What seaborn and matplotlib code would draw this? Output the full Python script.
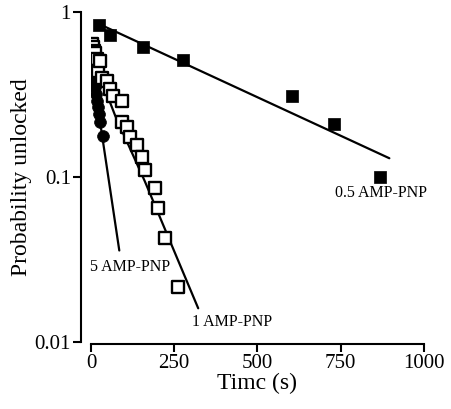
import numpy as np
import pandas as pd
import matplotlib
matplotlib.use("Agg")
import matplotlib.pyplot as plt
import seaborn as sns

# 0.5 AMP-PNP (filled squares)
t_half = [25, 57, 157, 275, 604, 730, 867]
p_half = [0.83, 0.72, 0.61, 0.51, 0.31, 0.21, 0.10]
fit_half_t = [37, 896]
fit_half_p = [0.82, 0.13]

# 1 AMP-PNP (open squares)
t_one = [2, 5, 9, 12, 17, 22, 27, 32, 47, 57, 67, 92, 92, 107, 117, 137, 152, 162, 193, 202, 222, 262]
p_one = [0.64, 0.61, 0.58, 0.56, 0.52, 0.44, 0.50, 0.40, 0.38, 0.34, 0.31, 0.29, 0.216,
         0.20, 0.175, 0.156, 0.133, 0.110, 0.0865, 0.065, 0.043, 0.0217]
fit_one_t = [15, 72, 162, 322]
fit_one_p = [0.47, 0.237, 0.094, 0.0161]

# 5 AMP-PNP (filled circles)
t_five = [1, 2, 3, 4, 5, 6, 8, 10, 12, 15, 18, 22, 25, 27, 37]
p_five = [0.62, 0.58, 0.54, 0.50, 0.47, 0.44, 0.41, 0.38, 0.35, 0.32, 0.29, 0.265, 0.24, 0.215, 0.177]
fit_five_t = [20, 85]
fit_five_p = [0.27, 0.036]

x_ticks = [0, 250, 500, 750, 1000]
y_ticks = [0.01, 0.1, 1]
y_tick_labels = ["0.01", "0.1", "1"]

sns.set_style("ticks")
plt.rcParams['font.family'] = ['Liberation Serif', 'DejaVu Serif']
plt.rcParams['text.color'] = 'black'
plt.rcParams['axes.labelcolor'] = 'black'
plt.rcParams['xtick.color'] = 'black'
plt.rcParams['ytick.color'] = 'black'
plt.rcParams['axes.edgecolor'] = 'black'

fig = plt.figure(figsize=(4.52, 4.09), dpi=100)
ax = fig.add_axes([0.2013, 0.1626, 0.9380 - 0.2013, 0.9714 - 0.1626])

df_half = pd.DataFrame({"t": t_half, "p": p_half})
df_one = pd.DataFrame({"t": t_one, "p": p_one})
df_five = pd.DataFrame({"t": t_five, "p": p_five})

lw = 1.6
sns.lineplot(x=fit_half_t, y=fit_half_p, ax=ax, color="black", lw=lw)
sns.lineplot(x=fit_one_t, y=fit_one_p, ax=ax, color="black", lw=lw)
sns.lineplot(x=fit_five_t, y=fit_five_p, ax=ax, color="black", lw=lw)

sns.scatterplot(data=df_five, x="t", y="p", ax=ax, marker="o", s=72,
                color="black", edgecolor="black", linewidth=0.5, zorder=3)
sns.scatterplot(data=df_one, x="t", y="p", ax=ax, marker="s", s=66,
                facecolor="white", edgecolor="black", linewidth=1.7, zorder=4)
sns.scatterplot(data=df_half, x="t", y="p", ax=ax, marker="s", s=76,
                color="black", edgecolor="black", linewidth=0.5, zorder=4)

ax.set_yscale("log")
ax.set_xlim(0, 1000)
ax.set_ylim(0.01, 1)
ax.set_xticks(x_ticks)
ax.set_xticklabels([str(v) for v in x_ticks])
ax.set_yticks(y_ticks)
ax.set_yticklabels(y_tick_labels)
ax.yaxis.set_minor_locator(matplotlib.ticker.NullLocator())

ax.tick_params(axis="both", labelsize=15, width=1.5, length=6, color="black",
               labelcolor="black", pad=1)
ax.set_xlabel("Timc (s)", fontsize=17, labelpad=0, color="black")
ax.set_ylabel("Probability unlocked", fontsize=17, labelpad=2, color="black")

sns.despine(ax=ax)
ax.spines['left'].set_position(('outward', 7.5))
ax.spines['bottom'].set_position(('outward', 1))
for s in ['left', 'bottom']:
    ax.spines[s].set_linewidth(1.5)
    ax.spines[s].set_color("black")

ax.text(870, 0.080, "0.5 AMP-PNP", fontsize=11.5, ha="center", va="center", color="black")
ax.text(117, 0.0286, "5 AMP-PNP", fontsize=11.5, ha="center", va="center", color="black")
ax.text(423, 0.0133, "1 AMP-PNP", fontsize=11.5, ha="center", va="center", color="black")

fig.savefig("out.png", dpi=100)
